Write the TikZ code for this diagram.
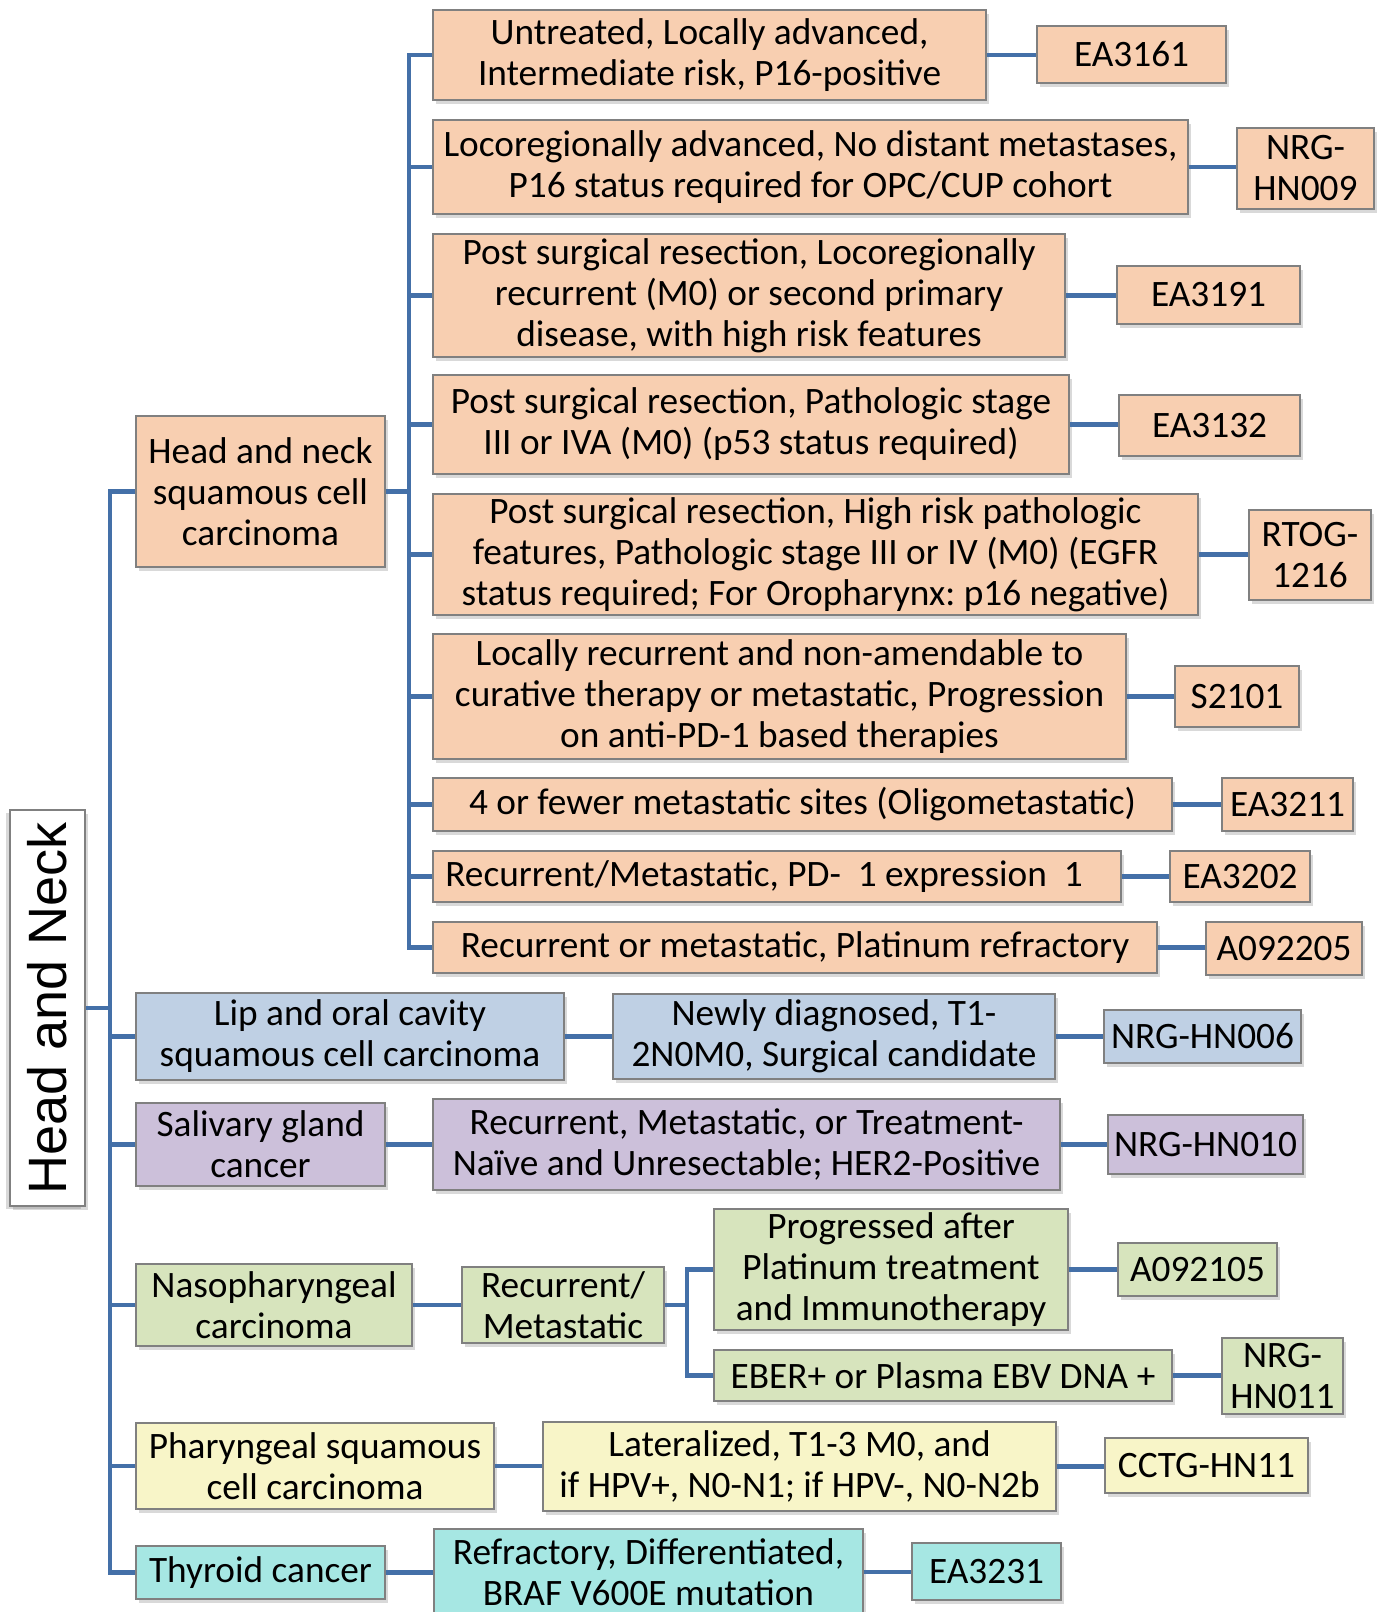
\documentclass[tikz,border=0pt]{standalone}
\usepackage{fontspec}
\setmainfont{Carlito}
\newfontfamily\rootfont{Liberation Sans}
\usetikzlibrary{shadows}
\frenchspacing
\definecolor{linkblue}{RGB}{68,112,168}
\definecolor{boxgray}{RGB}{128,128,128}
\definecolor{orng}{HTML}{F8CFB1}
\definecolor{blu}{HTML}{BFD0E4}
\definecolor{purp}{HTML}{CCC0DA}
\definecolor{grn}{HTML}{D7E4BD}
\definecolor{yel}{HTML}{F8F5C8}
\definecolor{cyn}{HTML}{A6E7E3}
\begin{document}
\begin{tikzpicture}[x=1pt,y=-1pt,
	box/.style={draw=boxgray, line width=1.2pt, align=center, inner sep=0pt,
		font=\fontsize{37.3}{41}\selectfont,
		drop shadow={shadow xshift=3pt, shadow yshift=-4pt, opacity=.3}},
	link/.style={draw=linkblue, line width=4.5pt}]
	\useasboundingbox (0,0) rectangle (1381,1612);
	
	\node[box, fill=white, rotate=90, minimum width=396, minimum height=75,
		font=\rootfont\fontsize{54}{60}\selectfont,
		drop shadow={shadow xshift=-4pt, shadow yshift=-3pt, opacity=.3}] (root) at (47.5,1008) {Head and Neck};
	\coordinate (trunk) at (110,1008);
	\coordinate (bus) at (409,491.5);
	\coordinate (nbus) at (687,1305);
	
	% first level
	\node[box, fill=orng, minimum width=249, minimum height=151] (hnscc) at (260.5,491.5) {Head and neck\\squamous cell\\carcinoma};
	\node[box, fill=blu, minimum width=428, minimum height=87] (lip) at (350,1036.5) {Lip and oral cavity\\squamous cell carcinoma};
	\node[box, fill=purp, minimum width=249, minimum height=83] (sal) at (260.5,1144.5) {Salivary gland\\cancer};
	\node[box, fill=grn, minimum width=276, minimum height=82] (naso) at (274,1305) {Nasopharyngeal\\carcinoma};
	\node[box, fill=yel, minimum width=358, minimum height=86] (phar) at (315,1466) {Pharyngeal squamous\\cell carcinoma};
	\node[box, fill=cyn, minimum width=249, minimum height=53] (thy) at (260.5,1572.5) {Thyroid cancer};
	
	% head and neck squamous cell carcinoma
	\node[box, fill=orng, minimum width=553, minimum height=90] (c1) at (709.5,55) {Untreated, Locally advanced,\\Intermediate risk, P16-positive};
	\node[box, fill=orng, minimum width=755, minimum height=94] (c2) at (810.5,167) {Locoregionally advanced, No distant metastases,\\P16 status required for OPC/CUP cohort};
	\node[box, fill=orng, minimum width=632, minimum height=123] (c3) at (749,295.5) {Post surgical resection, Locoregionally\\recurrent (M0) or second primary\\disease, with high risk features};
	\node[box, fill=orng, minimum width=636, minimum height=99] (c4) at (751,424.5) {Post surgical resection, Pathologic stage\\III or IVA (M0) (p53 status required)};
	\node[box, fill=orng, minimum width=765, minimum height=121] (c5) at (815.5,554.5) {Post surgical resection, High risk pathologic\\features, Pathologic stage III or IV (M0) (EGFR\\status required; For Oropharynx: p16 negative)};
	\node[box, fill=orng, minimum width=693, minimum height=125] (c6) at (779.5,696.5) {Locally recurrent and non-amendable to\\curative therapy or metastatic, Progression\\on anti-PD-1 based therapies};
	\node[box, fill=orng, minimum width=739, minimum height=53] (c7) at (802.5,804.5) {4 or fewer metastatic sites (Oligometastatic)};
	\node[box, fill=orng, minimum width=688, minimum height=51] (c8) at (777,876.5) {Recurrent/Metastatic, PD-~~1 expression~~1\hspace*{26pt}};
	\node[box, fill=orng, minimum width=724, minimum height=51] (c9) at (795,947.5) {Recurrent or metastatic, Platinum refractory};
	
	\node[box, fill=orng, minimum width=189, minimum height=57] (t1) at (1131.5,54.5) {EA3161};
	\node[box, fill=orng, minimum width=137, minimum height=81] (t2) at (1305.5,168.5) {NRG-\\HN009};
	\node[box, fill=orng, minimum width=183, minimum height=58] (t3) at (1208.5,295) {EA3191};
	\node[box, fill=orng, minimum width=181, minimum height=61] (t4) at (1209.5,425.5) {EA3132};
	\node[box, fill=orng, minimum width=122, minimum height=90] (t5) at (1310,555) {RTOG-\\1216};
	\node[box, fill=orng, minimum width=124, minimum height=61] (t6) at (1237,696.5) {S2101};
	\node[box, fill=orng, minimum width=131, minimum height=53] (t7) at (1287.5,804.5) {EA3211};
	\node[box, fill=orng, minimum width=140, minimum height=51] (t8) at (1240,876.5) {EA3202};
	\node[box, fill=orng, minimum width=156, minimum height=53] (t9) at (1284,948.5) {A092205};
	
	% other first level branches
	\node[box, fill=blu, minimum width=442, minimum height=85] (lipd) at (834,1036.5) {Newly diagnosed, T1-\\2N0M0, Surgical candidate};
	\node[box, fill=blu, minimum width=197, minimum height=53] (hn006) at (1202.5,1036.5) {NRG-HN006};
	\node[box, fill=purp, minimum width=627, minimum height=91] (sald) at (746.5,1144.5) {Recurrent, Metastatic, or Treatment-\\Naïve and Unresectable; HER2-Positive};
	\node[box, fill=purp, minimum width=195, minimum height=59] (hn010) at (1205.5,1144.5) {NRG-HN010};
	\node[box, fill=grn, minimum width=202, minimum height=76] (rm) at (563,1305) {Recurrent/\\Metastatic};
	\node[box, fill=grn, minimum width=354, minimum height=121] (prog) at (891,1269.5) {Progressed after\\Platinum treatment\\and Immunotherapy};
	\node[box, fill=grn, minimum width=159, minimum height=53] (a105) at (1197.5,1269.5) {A092105};
	\node[box, fill=grn, minimum width=458, minimum height=51] (eber) at (943,1375.5) {EBER+ or Plasma EBV DNA +};
	\node[box, fill=grn, minimum width=121, minimum height=76] (hn011) at (1282.5,1376) {NRG-\\HN011};
	\node[box, fill=yel, minimum width=513, minimum height=89] (lat) at (799.5,1466.5) {Lateralized, T1-3 M0, and\\if HPV+, N0-N1; if HPV-, N0-N2b};
	\node[box, fill=yel, minimum width=203, minimum height=55] (hn11) at (1206.5,1465.5) {CCTG-HN11};
	\node[box, fill=cyn, minimum width=429, minimum height=86] (refr) at (648.5,1572) {Refractory, Differentiated,\\BRAF V600E mutation};
	\node[box, fill=cyn, minimum width=149, minimum height=57] (ea3231) at (986.5,1571.5) {EA3231};
	
	\draw[link] (root.south) -- (trunk);
	\draw[link] (hnscc.west) -- (trunk |- hnscc.west) -- (trunk |- thy.west) -- (thy.west);
	\foreach \n in {lip,sal,naso,phar} \draw[link] (trunk |- \n.west) -- (\n.west);
	
	\draw[link] (hnscc.east) -- (bus);
	\draw[link] (c1.west) -- (bus |- c1.west) -- (bus |- c9.west) -- (c9.west);
	\foreach \n in {c2,c3,c4,c5,c6,c7,c8} \draw[link] (bus |- \n.west) -- (\n.west);
	\foreach \n/\m in {c1/t1,c2/t2,c3/t3,c4/t4,c5/t5,c6/t6,c7/t7,c8/t8,c9/t9} \draw[link] (\n.east) -- (\n.east -| \m.west);
	
	\draw[link] (lip.east) -- (lipd.west);
	\draw[link] (lipd.east) -- (hn006.west);
	\draw[link] (sal.east) -- (sald.west);
	\draw[link] (sald.east) -- (hn010.west);
	\draw[link] (naso.east) -- (rm.west);
	\draw[link] (rm.east) -- (nbus);
	\draw[link] (prog.west) -- (nbus |- prog.west) -- (nbus |- eber.west) -- (eber.west);
	\draw[link] (prog.east) -- (a105.west);
	\draw[link] (eber.east) -- (eber.east -| hn011.west);
	\draw[link] (phar.east) -- (phar.east -| lat.west);
	\draw[link] (lat.east) -- (lat.east -| hn11.west);
	\draw[link] (thy.east) -- (thy.east -| refr.west);
	\draw[link] (refr.east) -- (refr.east -| ea3231.west);
\end{tikzpicture}
\end{document}
